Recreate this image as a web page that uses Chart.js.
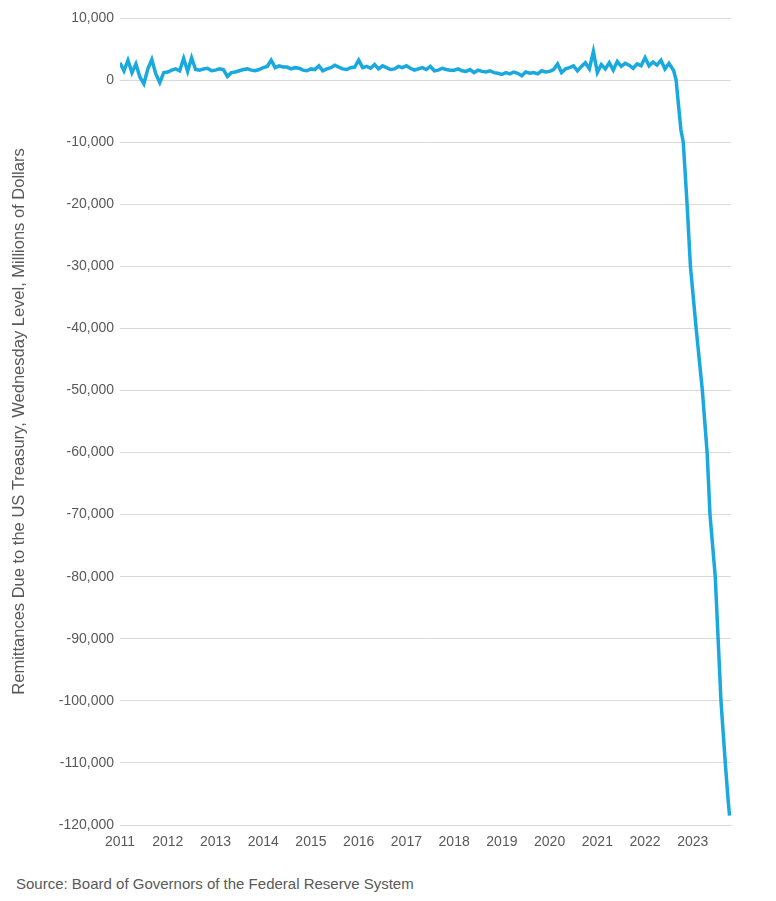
<!DOCTYPE html>
<html><head><meta charset="utf-8">
<script src="https://cdn.jsdelivr.net/npm/chart.js@4"></script>
<style>body{margin:0;background:#fff;font-family:"Liberation Sans",Arial,sans-serif}
#src{position:absolute;left:16px;top:875px;font-size:15px;color:#595959}</style></head>
<body>
<canvas id="c" width="776" height="865"></canvas>
<div id="src">Source: Board of Governors of the Federal Reserve System</div>
<script>
const years=[2011,2012,2013,2014,2015,2016,2017,2018,2019,2020,2021,2022];
const monthly={
2011:[2800,1500,3200,1200,2600,500,-600,1800,3300,1000,-400,1200],
2012:[1300,1600,1800,1500,3500,1400,3600,1700,1600,1800,1900,1500],
2013:[1600,1800,1700,600,1200,1300,1500,1700,1800,1600,1500,1700],
2014:[2000,2200,3200,2000,2300,2100,2100,1800,2000,1900,1600,1500],
2015:[1800,1700,2300,1500,1800,2000,2400,2100,1800,1700,2000,2100],
2016:[3200,2000,2200,1900,2500,1800,2300,2000,1700,1800,2200,2000],
2017:[2300,1900,1600,1800,2000,1700,2200,1500,1600,1900,1700,1600],
2018:[1600,1800,1500,1400,1700,1200,1600,1400,1300,1500,1200,1100],
2019:[900,1200,1000,1300,1100,700,1300,1100,1200,1000,1500,1300],
2020:[1400,1700,2600,1200,1800,2000,2300,1500,2200,2800,1800,4600],
2021:[1200,2500,1800,2800,1600,3000,2200,2700,2400,1900,2600,2300],
2022:[3600,2300,2900,2400,3200,1800,2700]
};
const declineDates=[2022.6,2022.65,2022.7,2022.75,2022.8,2022.88,2022.95,2023.07,2023.2,2023.3,2023.36,2023.47,2023.53,2023.59,2023.68,2023.74,2023.77];
const declineValues=[1500,0,-4000,-8000,-10000,-20000,-30000,-40000,-50000,-60000,-70000,-80000,-90000,-100000,-110000,-116000,-118500];
const pts=[];
years.forEach(y=>monthly[y].forEach((v,i)=>pts.push({x:y+i/12,y:v})));
declineDates.forEach((d,i)=>pts.push({x:d,y:declineValues[i]}));
const F='Liberation Sans';
new Chart(document.getElementById('c'),{type:'line',
data:{datasets:[{data:pts,borderColor:'#19a9de',borderWidth:3.5,pointRadius:0,tension:0}]},
options:{responsive:false,animation:false,plugins:{legend:{display:false},tooltip:{enabled:false}},
layout:{padding:{left:8,right:45,top:18,bottom:0}},
scales:{
x:{type:'linear',min:2011,max:2023.8,afterFit:s=>{s.height=40},
 afterBuildTicks:s=>{s.ticks=years.concat([2023]).map(v=>({value:v}));},
 grid:{display:false,drawTicks:false},border:{color:'#d9d9d9'},
 ticks:{color:'#595959',font:{size:14,family:F},callback:v=>String(v),maxRotation:0,padding:9}},
y:{min:-120000,max:10000,afterFit:s=>{s.width=112},
 ticks:{stepSize:10000,color:'#595959',font:{size:14,family:F},callback:v=>v.toLocaleString('en-US'),padding:6},
 grid:{color:'#d9d9d9',drawTicks:false},border:{display:false},
 title:{display:true,text:'Remittances Due to the US Treasury, Wednesday Level, Millions of Dollars',color:'#595959',font:{size:16.5,family:F},padding:2}}
}}});
</script></body></html>
